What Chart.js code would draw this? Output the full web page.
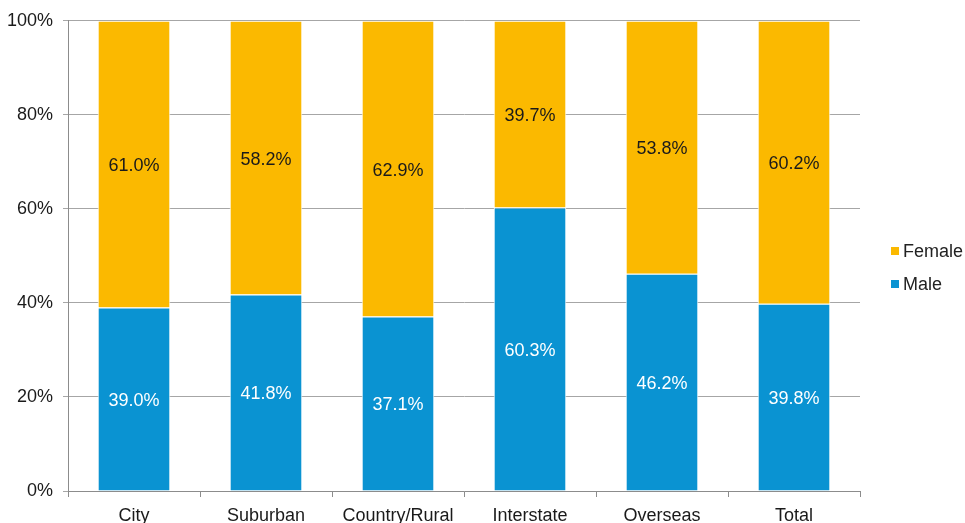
<!DOCTYPE html>
<html>
<head>
<meta charset="utf-8">
<script src="https://cdn.jsdelivr.net/npm/chart.js@4"></script>
<style>
  html, body { margin: 0; padding: 0; background: #fff; }
  #wrap { width: 965px; height: 523px; position: relative; }
</style>
</head>
<body>
<div id="wrap"><canvas id="chart"></canvas></div>
<script>
const categories = ['City', 'Suburban', 'Country/Rural', 'Interstate', 'Overseas', 'Total']
const maleValues = [39.0, 41.8, 37.1, 60.3, 46.2, 39.8]
const femaleValues = [61.0, 58.2, 62.9, 39.7, 53.8, 60.2]
const yTicks = [0, 20, 40, 60, 80, 100]

const BLUE = '#0a93d2'
const ORANGE = '#fbb900'
const FONT = '"Liberation Sans", Arial, sans-serif'
const SIZE = 18

// values written in the middle of each segment
const segmentLabels = {
  id: 'segmentLabels',
  afterDatasetsDraw(chart) {
    const ctx = chart.ctx
    ctx.save()
    ctx.font = SIZE + 'px ' + FONT
    ctx.textAlign = 'center'
    ctx.textBaseline = 'middle'
    chart.data.datasets.forEach((ds, i) => {
      chart.getDatasetMeta(i).data.forEach((bar, j) => {
        const mid = (bar.y + bar.base) / 2
        ctx.fillStyle = ds.labelColor
        ctx.fillText(ds.data[j].toFixed(1) + '%', bar.x, mid + 2)
      })
    })
    ctx.restore()
  },
}

// legend at right, Female above Male
const sideLegend = {
  id: 'sideLegend',
  afterDraw(chart) {
    const ctx = chart.ctx
    const x = chart.chartArea.right + 31
    const items = chart.data.datasets.slice().reverse()
    ctx.save()
    ctx.font = SIZE + 'px ' + FONT
    ctx.textBaseline = 'middle'
    items.forEach((ds, i) => {
      const y = 251 + i * 33
      ctx.fillStyle = ds.backgroundColor
      ctx.fillRect(x, y - 4, 8, 8)
      ctx.fillStyle = '#222'
      ctx.fillText(ds.label, x + 12, y + 1)
    })
    ctx.restore()
  },
}

new Chart(document.getElementById('chart'), {
  type: 'bar',
  data: {
    labels: categories,
    datasets: [
      {
        label: 'Male',
        data: maleValues,
        backgroundColor: BLUE,
        borderColor: '#ffffff',
        borderWidth: 1,
        labelColor: '#ffffff',
        barPercentage: 0.55,
        categoryPercentage: 1,
      },
      {
        label: 'Female',
        data: femaleValues,
        backgroundColor: ORANGE,
        borderColor: '#ffffff',
        borderWidth: 1,
        labelColor: '#1a1a1a',
        barPercentage: 0.55,
        categoryPercentage: 1,
      },
    ],
  },
  options: {
    responsive: true,
    maintainAspectRatio: false,
    animation: false,
    layout: { padding: { left: 0, right: 105, top: 6, bottom: 0 } },
    plugins: {
      legend: { display: false },
      tooltip: { enabled: false },
    },
    scales: {
      x: {
        stacked: true,
        afterFit: (axis) => { axis.height = 32 },
        border: { color: '#8c8c8c', width: 1 },
        grid: { drawOnChartArea: false, drawTicks: true, tickLength: 6, color: '#8c8c8c', offset: true },
        ticks: { color: '#1a1a1a', font: { family: FONT, size: SIZE }, padding: 8, maxRotation: 0 },
      },
      y: {
        stacked: true,
        min: 0,
        max: 100,
        afterBuildTicks: (axis) => { axis.ticks = yTicks.map((v) => ({ value: v })) },
        afterFit: (axis) => { axis.width = 68 },
        border: { color: '#8c8c8c', width: 1 },
        grid: { color: '#a6a6a6', tickLength: 5 },
        ticks: {
          color: '#1a1a1a',
          font: { family: FONT, size: SIZE },
          padding: 10,
          callback: (v) => v + '%',
        },
      },
    },
  },
  plugins: [segmentLabels, sideLegend],
})
</script>
</body>
</html>
